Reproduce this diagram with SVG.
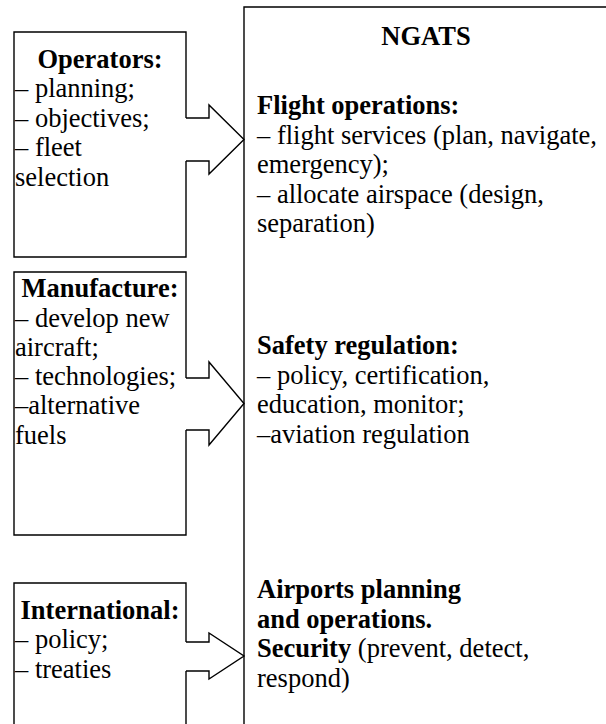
<svg xmlns="http://www.w3.org/2000/svg" width="606" height="724" viewBox="0 0 606 724">
<style>
.ln{fill:none;stroke:#000;stroke-width:1.4;stroke-linejoin:miter}
text{font-family:"Liberation Serif","Times New Roman",serif;font-size:26.5px;fill:#000}
.b{font-weight:bold}
.c{text-anchor:middle}
</style>
<rect width="606" height="724" fill="#fff"/>
<g id="ngats">
<path class="ln" d="M244,740 V7 H620"/>
<text class="b c" x="426" y="45">NGATS</text>
<text x="257" y="114"><tspan class="b">Flight operations:</tspan>
<tspan x="257" dy="29.5">– flight services (plan, navigate,</tspan>
<tspan x="257" dy="29.5">emergency);</tspan>
<tspan x="257" dy="29.5">– allocate airspace (design,</tspan>
<tspan x="257" dy="29.5">separation)</tspan></text>
<text x="257" y="354"><tspan class="b">Safety regulation:</tspan>
<tspan x="257" dy="29.5">– policy, certification,</tspan>
<tspan x="257" dy="29.5">education, monitor;</tspan>
<tspan x="257" dy="29.5">–aviation regulation</tspan></text>
<text x="257" y="598"><tspan class="b">Airports planning</tspan>
<tspan x="257" dy="29.5" class="b">and operations.</tspan>
<tspan x="257" dy="29.5"><tspan class="b">Security</tspan> (prevent, detect,</tspan>
<tspan x="257" dy="29.5">respond)</tspan></text>
</g>
<g id="operators">
<path class="ln" d="M186,118 V32 H14 V257 H186 V161"/>
<text class="b c" x="100" y="67.5">Operators:</text>
<text x="15" y="97">– planning;<tspan x="15" dy="29.5">– objectives;</tspan><tspan x="15" dy="29.5">– fleet</tspan><tspan x="15" dy="29.5">selection</tspan></text>
</g>
<g id="manufacture">
<path class="ln" d="M186,378 V272 H14 V535 H186 V430"/>
<text class="b c" x="100" y="297">Manufacture:</text>
<text x="15" y="326.5">– develop new<tspan x="15" dy="29.3">aircraft;</tspan><tspan x="15" dy="29.3">– technologies;</tspan><tspan x="15" dy="29.3">–alternative</tspan><tspan x="15" dy="29.3">fuels</tspan></text>
</g>
<g id="international">
<path class="ln" d="M186,642 V583 H14 V740 M186,740 V671"/>
<text class="b c" x="100" y="618.5">International:</text>
<text x="15" y="648">– policy;<tspan x="15" dy="29.5">– treaties</tspan></text>
</g>
<g id="connectors">
<path class="ln" d="M186,118 H209 V105 L244,139.5 L209,174 V161 H186"/>
<path class="ln" d="M186,378 H209 V362 L244,403.5 L209,445 V430 H186"/>
<path class="ln" d="M186,642 H209 V633 L244,656 L209,679 V671 H186"/>
</g>
</svg>
